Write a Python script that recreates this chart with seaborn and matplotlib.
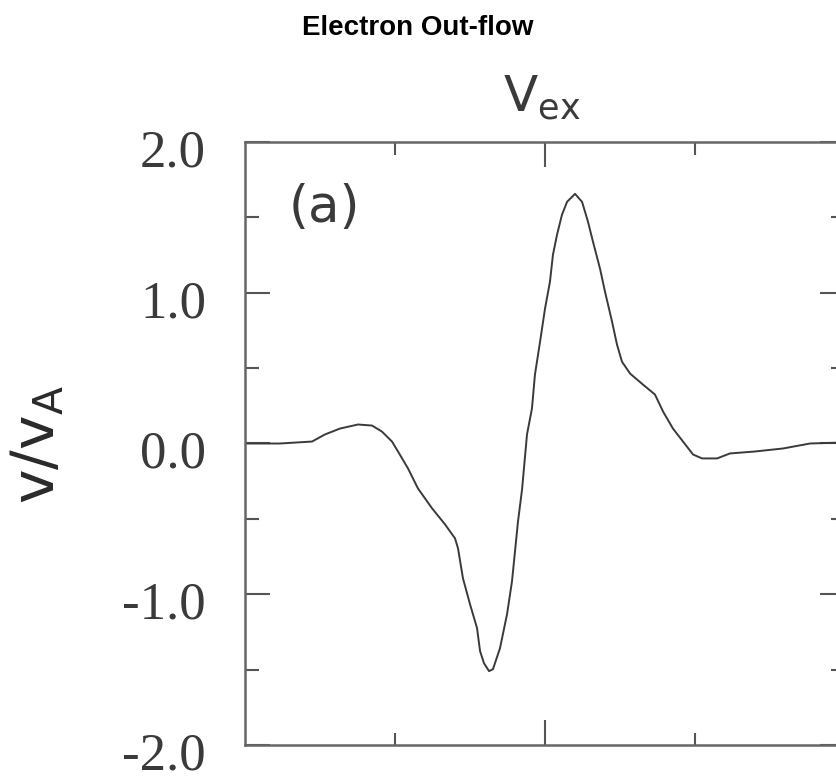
import numpy as np
import pandas as pd
import seaborn as sns
import matplotlib.pyplot as plt
from matplotlib.transforms import ScaledTranslation
from matplotlib.ticker import FixedLocator, FixedFormatter

# traced curve: position (ticks at -1, 0, 1) and v/vA
x_pos = [-2.0, -1.767, -1.553, -1.467, -1.367, -1.247, -1.153, -1.087, -1.02, -0.98,
         -0.913, -0.847, -0.753, -0.667, -0.6, -0.58, -0.547, -0.5, -0.453, -0.433,
         -0.407, -0.373, -0.347, -0.3, -0.253, -0.22, -0.18, -0.153, -0.12, -0.087,
         -0.067, -0.033, 0.0, 0.033, 0.053, 0.08, 0.113, 0.147, 0.2, 0.247,
         0.287, 0.32, 0.367, 0.4, 0.447, 0.48, 0.513, 0.567, 0.653, 0.733,
         0.787, 0.853, 0.92, 0.987, 1.047, 1.147, 1.233, 1.4, 1.587, 1.767, 2.0]
v_ex = [0.0, 0.0, 0.013, 0.06, 0.099, 0.126, 0.119, 0.079, 0.013, -0.053,
        -0.166, -0.298, -0.43, -0.536, -0.629, -0.695, -0.894, -1.066, -1.225, -1.377,
        -1.457, -1.51, -1.497, -1.358, -1.132, -0.914, -0.517, -0.305, 0.06, 0.232,
        0.457, 0.675, 0.894, 1.073, 1.252, 1.384, 1.517, 1.603, 1.656, 1.603,
        1.47, 1.338, 1.159, 1.007, 0.808, 0.656, 0.543, 0.464, 0.391, 0.325,
        0.212, 0.099, 0.013, -0.073, -0.099, -0.099, -0.066, -0.053, -0.033, 0.0, 0.007]

y_ticks = [-2.0, -1.0, 0.0, 1.0, 2.0]
y_ticklabels = ["-2.0", "-1.0", "0.0", "1.0", "2.0"]
y_minor = [-1.5, -0.5, 0.5, 1.5]

df = pd.DataFrame({"x": x_pos, "v": v_ex})

sns.set_style("white")
W, H = 836, 778
fig = plt.figure(figsize=(W / 100, H / 100), dpi=100)
ax = fig.add_axes([245 / W, 33 / H, 600 / W, 603 / H])

sns.lineplot(data=df, x="x", y="v", ax=ax, color="#3a3a3a", linewidth=1.4)

ax.set_xlim(-2, 2)
ax.set_ylim(-2, 2)
ax.set_xlabel("")
ax.set_ylabel("")

for side in ["left", "right", "top", "bottom"]:
    ax.spines[side].set_visible(True)
    ax.spines[side].set_color("#666666")
    ax.spines[side].set_linewidth(1.8)

ax.xaxis.set_major_locator(FixedLocator([0.0]))
ax.xaxis.set_minor_locator(FixedLocator([-1.0, 1.0]))
ax.yaxis.set_major_locator(FixedLocator(y_ticks))
ax.yaxis.set_major_formatter(FixedFormatter(y_ticklabels))
ax.yaxis.set_minor_locator(FixedLocator(y_minor))

ax.tick_params(axis="both", which="both", direction="in", colors="#555555",
               top=True, bottom=True, left=True, right=True)
ax.tick_params(axis="x", which="major", length=18, width=1.5, labelbottom=False)
ax.tick_params(axis="x", which="minor", length=9, width=1.5)
ax.tick_params(axis="y", which="major", length=18, width=1.5, pad=28,
               labelsize=38, labelcolor="#3a3a3a")
ax.tick_params(axis="y", which="minor", length=10, width=1.5)

for lab in ax.get_yticklabels():
    lab.set_family("Liberation Serif")
    lab.set_transform(lab.get_transform() + ScaledTranslation(0, -0.06, fig.dpi_scale_trans))

ax.text(0.133, 0.89, "(a)", transform=ax.transAxes, fontsize=37,
        family="DejaVu Sans", color="#3a3a3a", ha="center", va="center")

fig.text(0.5, 1 - 28 / H, "Electron Out-flow", ha="center", va="center",
         fontsize=20, fontweight="bold", family="Liberation Sans", color="black")
fig.text(542 / W, 1 - 111 / H, r"V$_\mathregular{ex}$", ha="center", va="baseline",
         fontsize=36, family="DejaVu Sans", color="#3a3a3a")
fig.text(38 / W, 1 - 445 / H, r"v/v$_\mathregular{A}$", ha="center", va="center",
         rotation=90, fontsize=42, family="DejaVu Sans", color="#2a2a2a")

fig.savefig("out.png", dpi=100, facecolor="white")
